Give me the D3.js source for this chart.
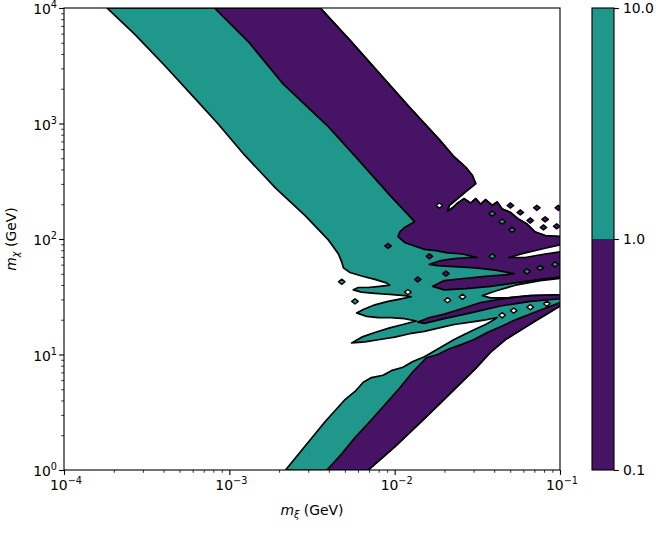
<!DOCTYPE html>
<html>
<head>
<meta charset="utf-8">
<script src="https://cdn.jsdelivr.net/npm/d3@7"></script>
<style>
  body { margin: 0; background: #fff; }
  text { font-family: "DejaVu Sans", sans-serif; fill: #000; }
</style>
</head>
<body>
<svg id="chart" width="656" height="536"></svg>
<script>
// every point is [log10 m_xi, log10 m_chi], masses in GeV

// left edge of the upper teal arm, top to bottom
const bandLeftEdge = [[-3.74,4.00],[-3.57,3.77],[-3.39,3.50],[-3.21,3.22],[-3.07,3.00],[-2.91,2.73],
  [-2.72,2.44],[-2.54,2.20],[-2.40,1.99],[-2.34,1.87],[-2.32,1.80],[-2.31,1.75]];
// the ragged tongues below the fan, ending at the lowest tongue tip
const fanTongues = [[-2.27,1.71],[-2.20,1.68],[-2.12,1.65],[-2.05,1.62],[-2.03,1.60],[-2.09,1.59],
  [-2.16,1.58],[-2.22,1.58],[-2.25,1.56],[-2.20,1.54],[-2.12,1.53],[-2.03,1.52],[-1.94,1.51],
  [-1.90,1.50],[-1.97,1.48],[-2.04,1.46],[-2.12,1.43],[-2.19,1.39],[-2.23,1.36],[-2.17,1.33],
  [-2.10,1.32],[-2.02,1.32],[-1.94,1.31],[-1.87,1.29],[-1.95,1.26],[-2.03,1.23],[-2.12,1.19],
  [-2.20,1.15],[-2.26,1.10]];
// lower side of that tongue, up to the tip of the white gap
const gapTop = [[-2.18,1.11],[-2.09,1.13],[-2.00,1.15],[-1.91,1.18],[-1.82,1.20],[-1.73,1.23],
  [-1.64,1.26],[-1.54,1.28],[-1.45,1.30],[-1.38,1.32]];
// upper side of the lower teal arm, back to its corner
const lowerBandTop = [[-1.40,1.30],[-1.45,1.26],[-1.51,1.22],[-1.57,1.18],[-1.64,1.13],[-1.70,1.08],
  [-1.76,1.03],[-1.82,0.98],[-1.89,0.94],[-1.95,0.89],[-2.02,0.86],[-2.07,0.82],[-2.14,0.80],[-2.19,0.76]];
const lowerBandLeft = [[-2.24,0.68],[-2.30,0.61],[-2.42,0.42],[-2.54,0.21],[-2.66,0.00]];

// lower purple arm
const lowerPurpleRight = [[-2.16,0.00],[-2.00,0.20],[-1.86,0.39],[-1.73,0.57],[-1.61,0.74],[-1.51,0.88],
  [-1.42,1.02],[-1.33,1.13],[-1.24,1.21],[-1.15,1.29],[-1.07,1.36],[-1.00,1.42],[-0.94,1.45]];
const lowerPurpleLeft = [[-2.41,0.00],[-2.32,0.14],[-2.24,0.28],[-2.15,0.42],[-2.05,0.58],[-1.97,0.71],
  [-1.89,0.85],[-1.81,0.97],[-1.74,1.00],[-1.67,1.05],[-1.59,1.09],[-1.52,1.13],
  [-1.44,1.19],[-1.36,1.24],[-1.27,1.30],[-1.18,1.35],[-1.09,1.40],[-1.00,1.45],[-0.94,1.48]];

// upper purple arm: outer edge (top, down and along the ragged top to the right)
const purpleOuterEdge = [[-2.45,4.00],[-2.27,3.72],[-2.09,3.43],[-1.91,3.14],[-1.73,2.86],[-1.64,2.71],
  [-1.57,2.62],[-1.53,2.55],[-1.51,2.48],[-1.57,2.41],[-1.62,2.35],[-1.67,2.29],[-1.68,2.24],
  [-1.65,2.27],[-1.62,2.31],[-1.58,2.35],[-1.54,2.31],[-1.51,2.35],[-1.48,2.30],[-1.45,2.34],
  [-1.41,2.29],[-1.38,2.32],[-1.35,2.26],[-1.30,2.23],[-1.25,2.17],[-1.20,2.13],[-1.15,2.06],
  [-1.09,2.03],[-1.00,2.02],[-0.94,2.02]];
// boundary between the teal and purple arms
const tealPurpleEdge = [[-3.09,4.00],[-2.88,3.70],[-2.68,3.35],[-2.40,2.97],[-2.21,2.67],[-2.03,2.38],[-1.88,2.15]];
// lower edge of the purple fan with its stripes
const purpleFanEdge = [[-1.94,2.10],[-1.97,2.06],[-1.98,2.02],[-1.94,1.97],[-1.88,1.94],[-1.82,1.91],
  [-1.75,1.90],[-1.68,1.88],[-1.59,1.87],[-1.50,1.84],[-1.56,1.84],[-1.64,1.83],[-1.73,1.81],
  [-1.79,1.78],[-1.74,1.77],[-1.64,1.76],[-1.51,1.75],[-1.39,1.73],[-1.28,1.70],[-1.33,1.69],
  [-1.42,1.68],[-1.57,1.66],[-1.70,1.64],[-1.77,1.59],[-1.70,1.56],[-1.57,1.57],[-1.42,1.59],
  [-1.27,1.62],[-1.12,1.65],[-1.00,1.67],[-0.94,1.67]];

// thin purple stripe and the two white wedges on the right
const purpleStripe = [[-1.86,1.28],[-1.79,1.32],[-1.70,1.35],[-1.61,1.39],[-1.48,1.45],[-1.36,1.48],
  [-1.18,1.51],[-0.94,1.52],[-0.94,1.49],[-1.18,1.46],[-1.36,1.42],[-1.54,1.36],[-1.70,1.31],[-1.82,1.27]];
const gapLower = [[-1.47,1.51],[-1.39,1.55],[-1.27,1.60],[-1.12,1.64],[-0.94,1.67],[-0.94,1.52],
  [-1.18,1.51],[-1.33,1.49],[-1.42,1.49]];
const gapUpper = [[-1.31,1.84],[-1.21,1.88],[-1.09,1.92],[-0.94,1.97],[-0.94,1.90],[-1.09,1.87],[-1.21,1.84]];

// small closed contours
const tealIslands = [[-1.20,1.72],[-1.12,1.75],[-1.03,1.78],[-1.41,1.85],[-1.41,2.22],[-1.35,2.15],
  [-1.29,2.08],[-2.32,1.63],[-2.24,1.46]];
const purpleIslands = [[-1.30,2.29],[-1.24,2.23],[-1.14,2.27],[-1.18,2.16],[-1.09,2.17],[-1.10,2.10],
  [-1.02,2.11],[-1.01,2.27],[-2.04,1.94],[-1.79,1.85],[-1.69,1.70],[-1.86,1.65]];
const whiteIslands = [[-1.92,1.54],[-1.68,1.47],[-1.59,1.50],[-1.35,1.34],[-1.28,1.38],[-1.18,1.41],
  [-1.08,1.44],[-1.73,2.29]];

const xTicks = [1e-4, 1e-3, 1e-2, 1e-1];
const yTicks = [1, 10, 100, 1000, 10000];
const levels = [0.1, 1, 10];
const levelLabels = ["0.1", "1.0", "10.0"];

const teal = "#1f988b", purple = "#471365";

const svg = d3.select("#chart");
const x = d3.scaleLog().domain([1e-4, 1e-1]).range([64, 560]);
const y = d3.scaleLog().domain([1, 1e4]).range([470, 8]);

const line = d3.line().x(d => x(10 ** d[0])).y(d => y(10 ** d[1]));
const poly = pts => line(pts) + "Z";

svg.append("clipPath").attr("id", "plotClip")
  .append("rect").attr("x", 64).attr("y", 8).attr("width", 496).attr("height", 462);

const plot = svg.append("g").attr("clip-path", "url(#plotClip)");

function region(pts, fill) {
  plot.append("path")
    .attr("d", poly(pts))
    .attr("fill", fill)
    .attr("stroke", "#000")
    .attr("stroke-width", 1.7)
    .attr("stroke-linejoin", "round");
}

const reversedOuter = purpleOuterEdge.slice().reverse();

// teal underneath everything that is inside the 0.1..10 band
region([].concat(bandLeftEdge, fanTongues, gapTop, lowerBandTop, lowerBandLeft,
  lowerPurpleRight, reversedOuter), teal);
// purple parts
region([].concat(tealPurpleEdge, purpleFanEdge, reversedOuter), purple);
region([].concat(lowerPurpleLeft, lowerPurpleRight.slice().reverse()), purple);
region(gapLower, "#fff");
region(purpleStripe, purple);
region(gapUpper, "#fff");

// little diamonds for the closed contours
const diamond = "M-3.3,0L0,-2.6L3.3,0L0,2.6Z";
function islands(pts, fill) {
  plot.append("g").selectAll("path").data(pts).join("path")
    .attr("transform", d => `translate(${x(10 ** d[0])},${y(10 ** d[1])})`)
    .attr("d", diamond)
    .attr("fill", fill)
    .attr("stroke", "#000")
    .attr("stroke-width", 1.4)
    .attr("stroke-linejoin", "round");
}
islands(tealIslands, teal);
islands(purpleIslands, purple);
islands(whiteIslands, "#fff");

// axes
const fs = 13.9;
const minorOf = ticks => ticks.slice(0, -1).flatMap(t => d3.range(2, 10).map(m => m * t));

function styleAxis(g) {
  g.select(".domain").remove();
  g.selectAll(".tick line").attr("stroke", "#000");
}

svg.append("g").attr("transform", "translate(0,470)")
  .call(d3.axisBottom(x).tickValues(xTicks).tickSize(4.9).tickFormat(""))
  .call(styleAxis).selectAll(".tick line").attr("stroke-width", 1.1);
svg.append("g").attr("transform", "translate(0,470)")
  .call(d3.axisBottom(x).tickValues(minorOf(xTicks)).tickSize(2.8).tickFormat(""))
  .call(styleAxis).selectAll(".tick line").attr("stroke-width", 0.8);
svg.append("g").attr("transform", "translate(64,0)")
  .call(d3.axisLeft(y).tickValues(yTicks).tickSize(4.9).tickFormat(""))
  .call(styleAxis).selectAll(".tick line").attr("stroke-width", 1.1);
svg.append("g").attr("transform", "translate(64,0)")
  .call(d3.axisLeft(y).tickValues(minorOf(yTicks)).tickSize(2.8).tickFormat(""))
  .call(styleAxis).selectAll(".tick line").attr("stroke-width", 0.8);

function powerLabel(sel, v) {
  const e = Math.round(Math.log10(v));
  sel.append("tspan").text("10");
  sel.append("tspan").attr("dy", -6).attr("font-size", fs * 0.7)
    .text(e < 0 ? "\u2212" + (-e) : String(e));
}

xTicks.forEach(v => {
  const t = svg.append("text").attr("x", x(v) + 2).attr("y", 490)
    .attr("font-size", fs).attr("text-anchor", "middle");
  powerLabel(t, v);
});
yTicks.forEach(v => {
  const t = svg.append("text").attr("x", 57).attr("y", y(v) + 6)
    .attr("font-size", fs).attr("text-anchor", "end");
  powerLabel(t, v);
});

svg.append("rect").attr("x", 64).attr("y", 8).attr("width", 496).attr("height", 462)
  .attr("fill", "none").attr("stroke", "#000").attr("stroke-width", 1.1);

// axis titles
const xt = svg.append("text").attr("x", 312).attr("y", 515)
  .attr("font-size", fs).attr("text-anchor", "middle");
xt.append("tspan").attr("font-style", "italic").text("m");
xt.append("tspan").attr("font-style", "italic").attr("font-size", fs * 0.7).attr("dy", 3).text("\u03be");
xt.append("tspan").attr("dy", -3).text(" (GeV)");

const yt = svg.append("text").attr("transform", "translate(16,239) rotate(-90)")
  .attr("font-size", fs).attr("text-anchor", "middle");
yt.append("tspan").attr("font-style", "italic").text("m");
yt.append("tspan").attr("font-style", "italic").attr("font-size", fs * 0.7).attr("dy", 3).text("\u03c7");
yt.append("tspan").attr("dy", -3).text(" (GeV)");

// colour bar
const c = d3.scaleLog().domain([0.1, 10]).range([470, 8]);
const bands = d3.pairs(levels);
svg.append("g").selectAll("rect").data(bands).join("rect")
  .attr("x", 592).attr("width", 22)
  .attr("y", d => c(d[1])).attr("height", d => c(d[0]) - c(d[1]))
  .attr("fill", (d, i) => i === 0 ? purple : teal);
svg.append("rect").attr("x", 592).attr("y", 8).attr("width", 22).attr("height", 462)
  .attr("fill", "none").attr("stroke", "#000").attr("stroke-width", 1.1);
svg.append("g").attr("transform", "translate(614,0)")
  .call(d3.axisRight(c).tickValues(levels).tickSize(4.9)
    .tickFormat((d, i) => levelLabels[i]).tickPadding(4))
  .call(g => {
    g.select(".domain").remove();
    g.selectAll(".tick line").attr("stroke", "#000").attr("stroke-width", 1.1);
    g.selectAll(".tick text").attr("font-size", fs).attr("fill", "#000")
      .attr("font-family", "DejaVu Sans");
  });
</script>
</body>
</html>
